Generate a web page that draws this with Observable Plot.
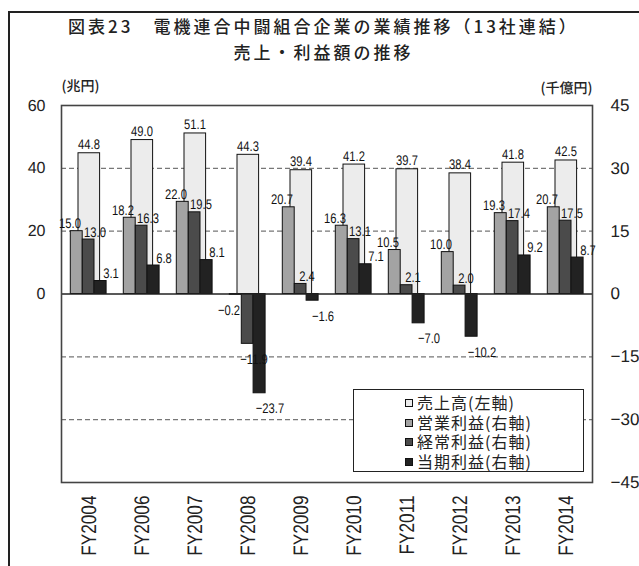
<!DOCTYPE html>
<html>
<head>
<meta charset="utf-8">
<script src="https://cdn.jsdelivr.net/npm/d3@7"></script>
<script src="https://cdn.jsdelivr.net/npm/@observablehq/plot@0.6"></script>
<style>
  html, body { margin: 0; padding: 0; background: #fff; }
  #page { position: relative; width: 639px; height: 566px; overflow: hidden; background: #fff; }
  #outline { position: absolute; left: 8px; top: 11px; width: 700px; height: 700px;
             border-left: 2px solid #222; border-top: 2px solid #222; }
  #title { position: absolute; left: 4px; top: 13px; width: 639px; text-align: center;
           font-family: "Noto Sans CJK JP", sans-serif; font-weight: 500; font-size: 17px;
           line-height: 26px; letter-spacing: 3px; color: #222; }
  #chart { position: absolute; left: 0; top: 66px; }
  #chart svg text { text-rendering: geometricPrecision; }
  #legend { position: absolute; left: 353px; top: 389px; width: 229px; height: 78px;
            border: 1.5px solid #222; background: #fff; padding-top: 3px; box-sizing: content-box;
            font-family: "Noto Sans CJK JP", sans-serif; font-size: 16px; letter-spacing: 1px; color: #222; }
  #legend .row { position: relative; height: 19.6px; line-height: 19.6px; padding-left: 63px; white-space: nowrap; }
  #legend .sw { position: absolute; left: 51px; top: 6px; width: 6px; height: 6px; border: 1px solid #111; }
</style>
</head>
<body>
<div id="page">
  <div id="outline"></div>
  <div id="title">図表23　電機連合中闘組合企業の業績推移（13社連結）<br>売上・利益額の推移</div>
  <div id="chart"></div>
  <div id="legend"></div>
</div>
<script>
// Fiscal years on the horizontal axis
const years = ["FY2004", "FY2006", "FY2007", "FY2008", "FY2009", "FY2010", "FY2011", "FY2012", "FY2013", "FY2014"];

// 売上高 (left axis, 兆円)
const sales = [44.8, 49.0, 51.1, 44.3, 39.4, 41.2, 39.7, 38.4, 41.8, 42.5];

// Profits (right axis, 千億円)
const operatingProfit = [15.0, 18.2, 22.0, -0.2, 20.7, 16.3, 10.5, 10.0, 19.3, 20.7];
const ordinaryProfit = [13.0, 16.3, 19.5, -11.9, 2.4, 13.1, 2.1, 2.0, 17.4, 17.5];
const netProfit = [3.1, 6.8, 8.1, -23.7, -1.6, 7.1, -7.0, -10.2, 9.2, 8.7];

// Axis ticks
const leftTicks = [0, 20, 40, 60];
const rightTicks = [45, 30, 15, 0, -15, -30, -45];
const gridTicks = [30, 15, -15, -30];

// Legend entries and axis unit captions
const seriesNames = ["売上高(左軸)", "営業利益(右軸)", "経常利益(右軸)", "当期利益(右軸)"];
const leftUnit = "(兆円)";
const rightUnit = "(千億円)";

// The right axis (±45) shares the frame with the left axis (±60)
const k = 60 / 45;
const minus = "\u2212";
const fmt = v => (v < 0 ? minus : "") + Math.abs(v).toFixed(1);

const numFont = "'Liberation Sans', Arial, sans-serif";
const jpFont = "'Noto Sans CJK JP', sans-serif";

const salesRows = years.map((year, i) => ({year, value: sales[i]}));

const profitSeries = [
  {values: operatingProfit, fill: "#a3a3a3", insetLeft: 8.3, insetRight: 32.8, dx: -19},
  {values: ordinaryProfit, fill: "#4b4b4b", insetLeft: 20.3, insetRight: 21.0, dx: 6},
  {values: netProfit, fill: "#222222", insetLeft: 32.1, insetRight: 8.9, dx: 22}
].map(s => ({...s, rows: years.map((year, i) => ({year, value: s.values[i]}))}));

const profitMarks = profitSeries.map(s =>
  Plot.barY(s.rows, {x: "year", y: d => d.value * k, fill: s.fill, stroke: "#111", strokeWidth: 1,
                     insetLeft: s.insetLeft, insetRight: s.insetRight})
);

const labelStyle = {fontSize: 14, fontFamily: numFont, fill: "#111", className: "num-label"};

const profitLabels = profitSeries.flatMap(s => [
  Plot.text(s.rows.filter(d => d.value >= 0), {x: "year", y: d => d.value * k, text: d => fmt(d.value),
    lineAnchor: "bottom", dy: -3, dx: s.dx, ...labelStyle}),
  Plot.text(s.rows.filter(d => d.value < 0), {x: "year", y: d => d.value * k, text: d => fmt(d.value),
    lineAnchor: "top", dy: 10, dx: s.dx, ...labelStyle})
]);

const chart = Plot.plot({
  width: 639,
  height: 500,
  marginTop: 39,
  marginBottom: 84,
  marginLeft: 61,
  marginRight: 47,
  style: {background: "transparent", color: "#222"},
  x: {type: "band", domain: years, padding: 0, label: null},
  y: {domain: [-60, 60], nice: false, label: null},
  marks: [
    Plot.ruleY(gridTicks, {y: d => d * k, stroke: "#777", strokeWidth: 1.2, strokeDasharray: "5,3"}),
    Plot.barY(salesRows, {x: "year", y: "value", fill: "#ececec", stroke: "#111", strokeWidth: 1,
                          insetLeft: 16, insetRight: 15.4}),
    ...profitMarks,
    Plot.ruleY([0], {stroke: "#222", strokeWidth: 1.5}),
    Plot.frame({stroke: "#444", strokeWidth: 1.6}),
    Plot.text(salesRows, {x: "year", y: "value", text: d => fmt(d.value), lineAnchor: "bottom", dy: -4,
                          ...labelStyle}),
    ...profitLabels,
    Plot.axisY({ticks: leftTicks, anchor: "left", tickSize: 0, tickPadding: 16, label: null,
                tickFormat: d => (d < 0 ? minus : "") + Math.abs(d),
                fontSize: 16, fontFamily: numFont}),
    Plot.axisY({ticks: rightTicks.map(d => d * k), anchor: "right", tickSize: 0, tickPadding: 18, label: null,
                tickFormat: d => { const v = Math.round(d / k); return (v < 0 ? minus : "") + Math.abs(v); },
                fontSize: 17, fontFamily: numFont}),
    Plot.axisX({anchor: "bottom", tickSize: 0, tickPadding: 13, tickRotate: -90, label: null,
                fontSize: 21, fontFamily: numFont, className: "year-label"}),
    Plot.text([leftUnit], {frameAnchor: "top-left", textAnchor: "start", dy: -24, dx: 0,
                           fontSize: 14, fontFamily: jpFont, fontWeight: 500, fill: "#222"}),
    Plot.text([rightUnit], {frameAnchor: "top-right", textAnchor: "end", dy: -22, dx: 0,
                            fontSize: 14, fontFamily: jpFont, fontWeight: 500, fill: "#222"})
  ]
});
document.getElementById("chart").appendChild(chart);

// Condensed look for the numeric labels and year labels
function condense(selection, ratio) {
  selection.each(function () {
    const w = this.getComputedTextLength();
    this.setAttribute("textLength", (w * ratio).toFixed(1));
    this.setAttribute("lengthAdjust", "spacingAndGlyphs");
  });
}
const svg = d3.select(chart);
condense(svg.selectAll(".num-label text"), 0.8);
condense(svg.selectAll("[aria-label='x-axis tick label'] text"), 0.82);

// Legend in the lower right of the frame
const swatches = ["#ececec", "#a3a3a3", "#4b4b4b", "#222222"];
const legend = document.getElementById("legend");
seriesNames.forEach((name, i) => {
  const row = document.createElement("div");
  row.className = "row";
  const sw = document.createElement("span");
  sw.className = "sw";
  sw.style.background = swatches[i];
  row.appendChild(sw);
  row.appendChild(document.createTextNode(name));
  legend.appendChild(row);
});
</script>
</body>
</html>
